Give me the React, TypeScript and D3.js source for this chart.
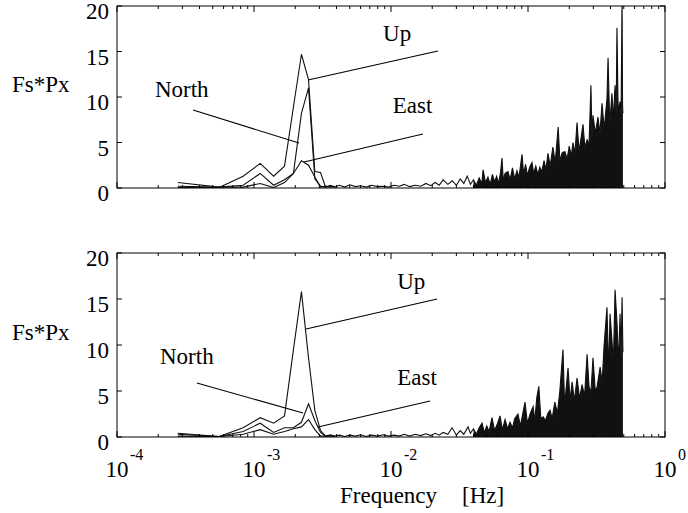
import { useEffect, useRef } from "react";
import * as d3 from "d3";

// low-frequency bins (Hz)
const lfFreq = [2.78e-4, 5.56e-4, 8.33e-4, 1.11e-3, 1.39e-3, 1.67e-3, 1.94e-3, 2.22e-3, 2.5e-3, 2.78e-3, 3.06e-3, 3.33e-3, 3.61e-3, 3.89e-3];

// top panel
const topUp = [0.05, 0.05, 1.3, 2.7, 1.3, 2.4, 8.9, 14.7, 11.9, 1.8, 1.7, 0.1, 0.2, 0.1];
const topNorth = [0.6, 0.1, 0.3, 1.6, 0.3, 0.9, 1.6, 8.2, 11.0, 1.0, 0.2, 0.1, 0.3, 0.1];
const topEast = [0.2, 0.1, 0.1, 0.5, 0.05, 0.6, 1.6, 3.0, 2.5, 1.2, 0.1, 0.2, 0.1, 0.2];

// bottom panel
const botUp = [0.1, 0.05, 1.0, 2.1, 1.5, 2.3, 9.5, 15.8, 8.6, 2.9, 0.7, 0.1, 0.2, 0.1];
const botNorth = [0.4, 0.05, 0.6, 1.5, 0.5, 1.0, 1.0, 1.6, 3.6, 1.8, 0.5, 0.1, 0.2, 0.1];
const botEast = [0.3, 0.05, 0.3, 0.8, 0.3, 0.6, 0.9, 1.1, 1.9, 0.8, 0.1, 0.1, 0.1, 0.1];

// high-frequency part [freq, value]
const topHf = [
  [0.0042, 0.3], [0.0046, 0.1], [0.005, 0.35], [0.0055, 0.15], [0.006, 0.25], [0.0066, 0.1], [0.0072, 0.3],
  [0.008, 0.15], [0.0088, 0.2], [0.0096, 0.1], [0.0105, 0.3], [0.0115, 0.2], [0.0125, 0.4], [0.0137, 0.15],
  [0.015, 0.3], [0.0165, 0.2], [0.018, 0.5], [0.0195, 0.25], [0.021, 0.6], [0.0225, 0.3], [0.024, 0.9],
  [0.026, 0.4], [0.028, 0.8], [0.03, 0.3], [0.032, 1.0], [0.034, 0.5], [0.036, 1.3], [0.038, 0.4],
  [0.04, 0.9], [0.042, 0.3], [0.044, 1.1], [0.046, 0.5], [0.047, 2.0], [0.049, 0.6], [0.051, 1.2],
  [0.053, 0.4], [0.055, 1.5], [0.057, 0.7], [0.059, 1.3], [0.061, 0.5], [0.063, 1.7], [0.0646, 3.3],
  [0.066, 0.8], [0.068, 1.6], [0.0715, 1.8], [0.074, 0.9], [0.077, 2.2], [0.08, 1.0], [0.083, 1.9],
  [0.086, 1.2], [0.0904, 3.7], [0.093, 1.5], [0.096, 2.6], [0.099, 1.4], [0.103, 2.3], [0.107, 2.8],
  [0.11, 1.6], [0.114, 2.4], [0.118, 1.5], [0.122, 2.3], [0.126, 1.8], [0.131, 3.0], [0.135, 2.0],
  [0.14, 3.8], [0.145, 2.4], [0.152, 4.5], [0.158, 2.8], [0.166, 6.7], [0.171, 3.0], [0.178, 3.9],
  [0.186, 4.0], [0.193, 3.2], [0.2, 4.6], [0.207, 3.5], [0.213, 5.0], [0.22, 3.8], [0.228, 7.2],
  [0.236, 4.0], [0.244, 5.5], [0.252, 7.0], [0.26, 4.5], [0.27, 5.3], [0.279, 4.8], [0.288, 11.3],
  [0.293, 5.5], [0.298, 8.0], [0.31, 6.0], [0.324, 7.8], [0.335, 6.0], [0.347, 9.3], [0.36, 6.5],
  [0.377, 9.8], [0.384, 14.3], [0.395, 7.0], [0.41, 10.4], [0.42, 7.5], [0.432, 11.3], [0.44, 8.0],
  [0.446, 17.6], [0.455, 8.5], [0.47, 9.5], [0.478, 8.0], [0.486, 21], [0.49, 9.0], [0.493, 8.2],
];

const botHf = [
  [0.0042, 0.2], [0.0046, 0.05], [0.005, 0.2], [0.0055, 0.1], [0.006, 0.25], [0.0066, 0.05], [0.0072, 0.2],
  [0.008, 0.1], [0.0088, 0.25], [0.0096, 0.1], [0.0105, 0.2], [0.0115, 0.1], [0.0125, 0.3], [0.0137, 0.1],
  [0.015, 0.3], [0.0165, 0.15], [0.018, 0.35], [0.0195, 0.15], [0.021, 0.4], [0.0225, 0.2], [0.024, 0.5],
  [0.026, 0.3], [0.0279, 1.0], [0.03, 0.2], [0.032, 0.7], [0.034, 0.3], [0.0365, 1.1], [0.038, 0.4],
  [0.04, 0.9], [0.042, 0.3], [0.044, 1.0], [0.0462, 1.5], [0.048, 0.5], [0.05, 1.2], [0.052, 0.6],
  [0.0546, 2.1], [0.057, 0.7], [0.06, 1.5], [0.0625, 2.3], [0.065, 0.8], [0.068, 1.9], [0.071, 0.9],
  [0.0739, 1.6], [0.077, 1.0], [0.08, 2.0], [0.0845, 2.5], [0.088, 1.2], [0.0951, 3.8], [0.099, 1.5],
  [0.104, 2.6], [0.109, 3.3], [0.112, 1.8], [0.116, 4.3], [0.12, 5.5], [0.124, 2.0], [0.129, 2.2],
  [0.134, 1.8], [0.14, 2.6], [0.145, 2.9], [0.15, 2.0], [0.157, 3.8], [0.164, 2.6], [0.171, 5.1],
  [0.18, 9.5], [0.185, 3.5], [0.196, 7.5], [0.203, 4.0], [0.21, 6.0], [0.218, 3.9], [0.228, 6.4],
  [0.238, 4.2], [0.248, 5.7], [0.259, 4.5], [0.27, 9.0], [0.279, 5.5], [0.288, 4.8], [0.298, 8.6],
  [0.31, 5.0], [0.319, 5.4], [0.336, 7.6], [0.348, 6.0], [0.359, 9.9], [0.377, 14.1], [0.388, 7.0],
  [0.397, 13.4], [0.41, 10.5], [0.42, 8.0], [0.432, 16.0], [0.446, 12.5], [0.458, 8.0], [0.47, 13.4],
  [0.478, 8.5], [0.486, 15.2], [0.493, 9.2],
];

// annotations: label [freq, value] and pointer line [[f1, v1], [f2, v2]]
const topNotes = [
  { name: "North", at: [1.89e-4, 10.0], line: [[3.59e-4, 8.57], [2.13e-3, 4.95]] },
  { name: "Up", at: [8.75e-3, 16.15], line: [[2.48e-3, 11.87], [0.022, 15.05]] },
  { name: "East", at: [0.0103, 8.24], line: [[2.32e-3, 2.86], [0.0171, 5.93]] },
];
const botNotes = [
  { name: "North", at: [2.06e-4, 7.93], line: [[3.83e-4, 5.87], [2.28e-3, 2.61]] },
  { name: "Up", at: [0.0111, 16.1], line: [[2.4e-3, 11.74], [0.0217, 15.0]] },
  { name: "East", at: [0.0111, 5.65], line: [[2.93e-3, 1.09], [0.0193, 3.91]] },
];

const yTicks = [0, 5, 10, 15, 20];
const decades = [-4, -3, -2, -1, 0];

const FONT = "Liberation Serif";

export default function App() {
  const svgRef = useRef(null);

  useEffect(() => {
    const svg = d3.select(svgRef.current);
    svg.selectAll("*").remove();

    const left = 117;
    const right = 665;
    const x = d3.scaleLog().domain([1e-4, 1]).range([left, right]);

    const panels = [
      { top: 6, bottom: 188, up: topUp, north: topNorth, east: topEast, hf: topHf, notes: topNotes, labels: false },
      { top: 253, bottom: 437, up: botUp, north: botNorth, east: botEast, hf: botHf, notes: botNotes, labels: true },
    ];

    panels.forEach((p, pi) => {
      const y = d3.scaleLinear().domain([0, 20]).range([p.bottom, p.top]);
      const g = svg.append("g");

      const clipId = `clip${pi}`;
      svg.append("clipPath").attr("id", clipId)
        .append("rect").attr("x", left).attr("y", p.top).attr("width", right - left).attr("height", p.bottom - p.top);

      const plot = g.append("g").attr("clip-path", `url(#${clipId})`);

      const line = d3.line().x((d) => x(d[0])).y((d) => y(d[1]));
      const area = d3.area().x((d) => x(d[0])).y0(y(0)).y1((d) => y(d[1]));

      // dense high-frequency band is drawn filled, as the overlapping lines look in print
      plot.append("path").datum(p.hf.filter((d) => d[0] >= 0.04)).attr("d", area).attr("fill", "#111");

      const upSeries = lfFreq.map((f, i) => [f, p.up[i]]).concat(p.hf);
      const lines = [
        lfFreq.map((f, i) => [f, p.north[i]]),
        lfFreq.map((f, i) => [f, p.east[i]]),
        upSeries,
      ];
      lines.forEach((s) => {
        plot.append("path").datum(s).attr("d", line)
          .attr("fill", "none").attr("stroke", "#111").attr("stroke-width", 1.1);
      });

      // frame
      g.append("rect").attr("x", left).attr("y", p.top).attr("width", right - left).attr("height", p.bottom - p.top)
        .attr("fill", "none").attr("stroke", "#000").attr("stroke-width", 1);

      // y ticks (both sides)
      yTicks.forEach((t) => {
        g.append("line").attr("x1", left).attr("x2", left + 5).attr("y1", y(t)).attr("y2", y(t)).attr("stroke", "#000");
        g.append("line").attr("x1", right).attr("x2", right - 5).attr("y1", y(t)).attr("y2", y(t)).attr("stroke", "#000");
        g.append("text").attr("x", left - 8).attr("y", y(t) + 5).attr("dy", "0.35em")
          .attr("text-anchor", "end").style("font-family", FONT).style("font-size", "23px").text(t);
      });

      // x ticks (log, top and bottom)
      x.ticks().forEach((t) => {
        const major = Math.abs(Math.log10(t) - Math.round(Math.log10(t))) < 1e-9;
        const len = major ? 6 : 3;
        const xp = x(t);
        g.append("line").attr("x1", xp).attr("x2", xp).attr("y1", p.bottom).attr("y2", p.bottom - len).attr("stroke", "#000");
        g.append("line").attr("x1", xp).attr("x2", xp).attr("y1", p.top).attr("y2", p.top + len).attr("stroke", "#000");
      });

      if (p.labels) {
        decades.forEach((e) => {
          const xp = x(Math.pow(10, e));
          g.append("text").attr("x", xp).attr("y", 477).attr("text-anchor", "middle")
            .style("font-family", FONT).style("font-size", "23px").text("10");
          g.append("text").attr("x", xp + 13).attr("y", 460).attr("text-anchor", "start")
            .style("font-family", FONT).style("font-size", "16px").text(String(e));
        });
      }

      // y label
      g.append("text").attr("x", 12).attr("y", (p.top + p.bottom) / 2 - 13).attr("dy", "0.35em")
        .style("font-family", FONT).style("font-size", "23px").text("Fs*Px");

      // annotations
      p.notes.forEach((n) => {
        g.append("path").datum(n.line).attr("d", line).attr("stroke", "#000").attr("stroke-width", 1.1).attr("fill", "none");
        g.append("text").attr("x", x(n.at[0])).attr("y", y(n.at[1]))
          .style("font-family", FONT).style("font-size", "23px").text(n.name);
      });
    });

    svg.append("text").attr("x", 340).attr("y", 503).style("font-family", FONT).style("font-size", "23px").text("Frequency");
    svg.append("text").attr("x", 462).attr("y", 503).style("font-family", FONT).style("font-size", "23px").text("[Hz]");
  }, []);

  return (
    <svg ref={svgRef} width={688} height={513} style={{ position: "absolute", left: 0, top: 0, background: "#fff" }} />
  );
}
